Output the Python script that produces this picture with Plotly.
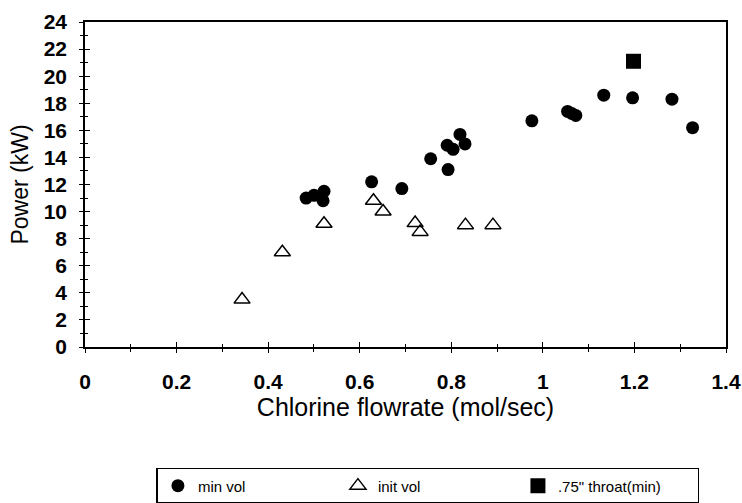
import plotly.graph_objects as go

min_vol_x = [0.483, 0.50, 0.522, 0.520, 0.626, 0.692, 0.755, 0.793, 0.791, 0.804, 0.819, 0.830,
             0.976, 1.054, 1.063, 1.072, 1.133, 1.196, 1.282, 1.327]
min_vol_y = [11.0, 11.2, 11.5, 10.8, 12.2, 11.7, 13.9, 13.1, 14.9, 14.6, 15.7, 15.0,
             16.7, 17.4, 17.25, 17.1, 18.6, 18.4, 18.3, 16.2]

init_vol_x = [0.343, 0.431, 0.522, 0.630, 0.651, 0.721, 0.732, 0.831, 0.891]
init_vol_y = [3.5, 7.0, 9.1, 10.8, 10.0, 9.15, 8.5, 9.0, 9.0]

throat_x = [1.198]
throat_y = [21.1]

x_ticks = [0, 0.2, 0.4, 0.6, 0.8, 1, 1.2, 1.4]
x_labels = ["0", "0.2", "0.4", "0.6", "0.8", "1", "1.2", "1.4"]
y_ticks = list(range(0, 25, 2))

fig = go.Figure()
fig.add_trace(go.Scatter(x=min_vol_x, y=min_vol_y, mode="markers", name="min vol",
                         marker=dict(symbol="circle", size=13, color="black")))
fig.add_trace(go.Scatter(x=init_vol_x, y=init_vol_y, mode="markers", name="init vol",
                         marker=dict(symbol="triangle-up-open", size=14, color="black",
                                     line=dict(width=1.5, color="black"))))
fig.add_trace(go.Scatter(x=throat_x, y=throat_y, mode="markers", name='.75" throat(min)',
                         marker=dict(symbol="square", size=15, color="black")))
fig.add_trace(go.Scatter(x=[None], y=[None], xaxis="x2", yaxis="y2", showlegend=False, hoverinfo="skip"))

tf = dict(family="Liberation Sans", size=21, color="black", weight=700)

fig.update_layout(
    width=742, height=503,
    margin=dict(l=85, r=16, t=22, b=156, autoexpand=False),
    paper_bgcolor="white", plot_bgcolor="white",
    showlegend=True,
    font=dict(family="Liberation Sans", color="black"),
    xaxis=dict(range=[0, 1.4], tickvals=x_ticks, ticktext=x_labels, tickfont=tf,
               ticks="outside", ticklen=4, tickwidth=1, tickcolor="black", automargin=False,
               ticklabelstandoff=11, ticklabeloverflow="allow",
               minor=dict(dtick=0.1, ticks="outside", ticklen=3, tickcolor="black"),
               showgrid=False, zeroline=False, showline=True, linecolor="black", linewidth=1.5,
               mirror=True,
               title=dict(text="Chlorine flowrate (mol/sec)", font=dict(size=25), standoff=3)),
    yaxis=dict(range=[0, 24], tickvals=y_ticks, tickfont=tf,
               ticks="outside", ticklen=4, tickwidth=1, tickcolor="black", automargin=False,
               ticklabelstandoff=8, ticklabeloverflow="allow",
               minor=dict(dtick=1, ticks="outside", ticklen=3, tickcolor="black"),
               showgrid=False, zeroline=False, showline=True, linecolor="black", linewidth=1.5,
               mirror=True,
               title=dict(text="Power (kW)", font=dict(size=23), standoff=9)),
    xaxis2=dict(range=[0, 1.4], overlaying="x", tickvals=x_ticks, showticklabels=False,
                ticks="inside", ticklen=5, tickcolor="black", automargin=False,
                minor=dict(dtick=0.1, ticks="inside", ticklen=3, tickcolor="black"),
                showgrid=False, zeroline=False, showline=False),
    yaxis2=dict(range=[0, 24], overlaying="y", tickvals=y_ticks, showticklabels=False,
                ticks="inside", ticklen=5, tickcolor="black", automargin=False,
                minor=dict(dtick=1, ticks="inside", ticklen=3, tickcolor="black"),
                showgrid=False, zeroline=False, showline=False),
    legend=dict(orientation="h", x=0.535, xanchor="center", y=-0.372, yanchor="top",
                bordercolor="black", borderwidth=1.5, bgcolor="white",
                entrywidth=135, entrywidthmode="pixels", itemwidth=30, tracegroupgap=0,
                font=dict(size=15, color="black")),
)

fig.write_html("out.html", config={"displayModeBar": False},
               post_script="document.body.style.margin='0';document.body.style.overflow='hidden';")
